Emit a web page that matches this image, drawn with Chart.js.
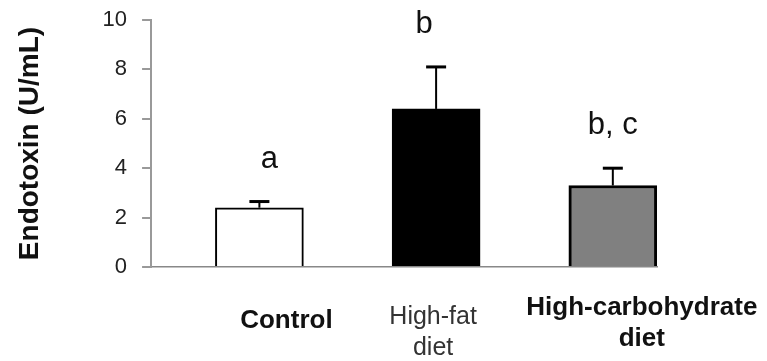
<!DOCTYPE html>
<html>
<head>
<meta charset="utf-8">
<script src="https://cdn.jsdelivr.net/npm/chart.js@4.4.0/dist/chart.umd.min.js"></script>
<style>
  html, body { margin: 0; padding: 0; background: #fff; }
  #wrap { width: 767px; height: 361px; }
</style>
</head>
<body>
<div id="wrap"><canvas id="myChart"></canvas></div>
<script>
// Data
const categories = [['Control'], ['High-fat', 'diet'], ['High-carbohydrate', 'diet']];
const endotoxin = [2.4, 6.4, 3.3];
const errors = [0.25, 1.7, 0.7];
const letters = ['a', 'b', 'b, c'];
const yTicks = [0, 2, 4, 6, 8, 10];

const FONT = '"Liberation Sans", Arial, Helvetica, sans-serif';

// look of each category label under the axis
const labelStyle = [
  { font: 'bold 26px ' + FONT, color: '#111', dx: 27, dy: 61 },
  { font: '25px ' + FONT, color: '#333', dx: -3, dy: 57 },
  { font: 'bold 26px ' + FONT, color: '#111', dx: 29, dy: 48 }
];
const letterDx = [10, -12, 0];

// Error bars, significance letters and category labels
const extras = {
  id: 'extras',
  afterDatasetsDraw(chart) {
    const { ctx, chartArea } = chart;
    const y = chart.scales.y;
    const x = chart.scales.x;
    const meta = chart.getDatasetMeta(0);
    ctx.save();
    ctx.strokeStyle = '#000';
    for (let i = 0; i < meta.data.length; i++) {
      const bar = meta.data[i];
      const top = y.getPixelForValue(endotoxin[i] + errors[i]);
      ctx.lineWidth = 2;
      ctx.beginPath();
      ctx.moveTo(bar.x, bar.y);
      ctx.lineTo(bar.x, top);
      ctx.stroke();
      ctx.lineWidth = 3;
      ctx.beginPath();
      ctx.moveTo(bar.x - 10, top);
      ctx.lineTo(bar.x + 10, top);
      ctx.stroke();

      ctx.fillStyle = '#111';
      ctx.font = '31px ' + FONT;
      ctx.textAlign = 'center';
      ctx.textBaseline = 'alphabetic';
      ctx.fillText(letters[i], bar.x + letterDx[i], top - 34);
    }

    // category labels
    for (let i = 0; i < categories.length; i++) {
      const st = labelStyle[i];
      const cx = x.getPixelForValue(i) + st.dx;
      ctx.font = st.font;
      ctx.fillStyle = st.color;
      ctx.textAlign = 'center';
      categories[i].forEach((line, j) => {
        ctx.fillText(line, cx, chartArea.bottom + st.dy + j * 31);
      });
    }
    ctx.restore();
  }
};

const ctx = document.getElementById('myChart');

const config = {
  type: 'bar',
  data: {
    datasets: [{
      data: endotoxin.map((v, i) => ({ x: i, y: v })),
      backgroundColor: ['#ffffff', '#000000', '#808080'],
      borderColor: '#000',
      borderWidth: [2, 2, 3],
      barThickness: 88
    }]
  },
  options: {
    responsive: true,
    maintainAspectRatio: false,
    animation: false,
    layout: { padding: { top: 20, left: 0, right: 110, bottom: 86 } },
    plugins: {
      legend: { display: false },
      tooltip: { enabled: false }
    },
    scales: {
      x: {
        type: 'linear',
        offset: false,
        min: -0.613,
        max: 2.25,
        grid: { display: false },
        ticks: { display: false },
        border: { color: '#888', width: 1.5 }
      },
      y: {
        min: 0,
        max: 10,
        afterBuildTicks(scale) {
          scale.ticks = yTicks.map(v => ({ value: v }));
        },
        // label padding should not push the plot area down
        afterFit(scale) {
          scale.paddingTop = 0;
        },
        border: { color: '#999', width: 2 },
        grid: { drawOnChartArea: false, drawTicks: true, tickLength: 9, color: '#999', lineWidth: 2 },
        ticks: { font: { size: 22, family: FONT }, color: '#222', padding: 15 },
        title: {
          display: true,
          text: 'Endotoxin (U/mL)',
          color: '#111',
          font: { size: 28, weight: 'bold', family: FONT },
          padding: { top: 13, bottom: 41 }
        }
      }
    }
  },
  plugins: [extras]
};

new Chart(ctx, config);
</script>
</body>
</html>
